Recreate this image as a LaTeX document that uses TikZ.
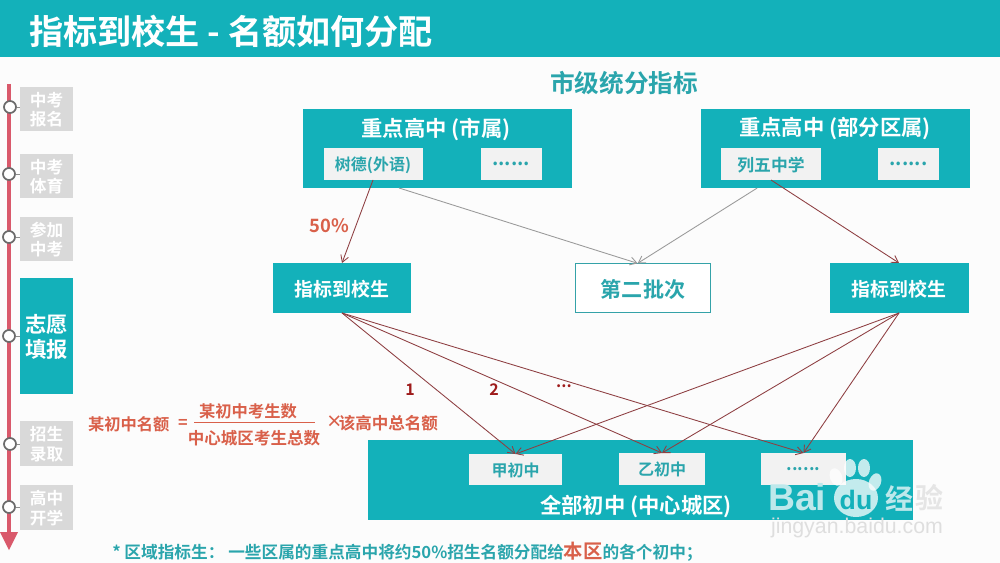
\documentclass[tikz,border=0pt]{standalone}
\usepackage{fontspec}
\setmainfont{Noto Sans CJK SC}[BoldFont={* Bold}]
\newfontfamily\wmfont{Liberation Sans}
\usetikzlibrary{arrows.meta,calc}
\definecolor{teal1}{HTML}{13B1BA}
\definecolor{tealtxt}{HTML}{2AA5AC}
\definecolor{greybox}{HTML}{D9D9D9}
\definecolor{lightbox}{HTML}{F2F2F2}
\definecolor{tlred}{HTML}{D9596B}
\definecolor{orangetxt}{HTML}{D9604A}
\definecolor{arrowred}{HTML}{8E3F42}
\definecolor{arrowgrey}{HTML}{9A9A9A}
\definecolor{numred}{HTML}{9E1B1B}
\definecolor{wm}{HTML}{BDE8EB}
\newcommand{\fs}[1]{\fontsize{#1}{#1}\selectfont\bfseries}
\tikzset{
  x=0.75pt,y=-0.75pt,
  box/.style={inner sep=0pt,outer sep=0pt,align=center,text depth=0pt},
  tealbox/.style={box,fill=teal1,text=white},
  tlbox/.style={box,fill=greybox,text=white,minimum width=39.75pt,font=\fs{12.5},execute at begin node={\baselineskip=14.5pt}},
  smallbox/.style={box,fill=lightbox,text=tealtxt,font=\fs{12}},
  dotsbox/.style={box,fill=lightbox,text=tealtxt,font=\fs{14.5}},
  tldot/.style={circle,draw=black!58,line width=1.3pt,fill=white,minimum size=9pt,inner sep=0pt},
  redarrow/.style={draw=arrowred,line width=0.65pt,-{Straight Barb[length=5pt,width=6pt]}},
  greyarrow/.style={draw=arrowgrey,line width=0.65pt,-{Straight Barb[length=5pt,width=6pt]}},
  lab/.style={inner sep=0pt,outer sep=0pt,text=orangetxt},
}
\begin{document}
\begin{tikzpicture}
\useasboundingbox (0,0) rectangle (1000,563);
\fill[white!99!black] (0,0) rectangle (1000,563);
% header
\node[tealbox,minimum width=750pt,minimum height=42.75pt,anchor=north west] (header) at (0,0) {};
\node[inner sep=0pt,text=white,font=\fs{25.6},anchor=west] (title) at (29,31) {指标到校生 - 名额如何分配};
% timeline
\draw[tlred,line width=3pt] (9,84) coordinate (tltop) -- (9,534) coordinate (tlend);
\fill[tlred] (0,532) -- (18,532) -- (9,550) -- cycle;
\node[tlbox,minimum height=33pt] (t1) at (46.5,109) {中考\\报名};
\node[tlbox,minimum height=33pt] (t2) at (46.5,176) {中考\\体育};
\node[tlbox,minimum height=33pt] (t3) at (46.5,239) {参加\\中考};
\node[box,fill=teal1,text=white,minimum width=39.75pt,minimum height=87pt,font=\fs{16},execute at begin node={\baselineskip=19pt}] (t4) at (46.5,336) {志愿\\填报};
\node[tlbox,minimum height=33.75pt] (t5) at (46.5,443.5) {招生\\录取};
\node[tlbox,minimum height=33.75pt] (t6) at (46.5,507.5) {高中\\开学};
\node[tldot] (d1) at (10,107) {};
\node[tldot] (d2) at (9,174) {};
\node[tldot] (d3) at (9,237) {};
\node[tldot] (d4) at (9,336) {};
\node[tldot] (d5) at (10,444) {};
\node[tldot] (d6) at (9,507) {};
\foreach \a/\b in {d1/t1,d2/t2,d3/t3,d4/t4,d5/t5,d6/t6}{\draw[black!45,line width=0.6pt] (\a) -- (\a -| \b.west);}
% heading
\node[inner sep=0pt,text=tealtxt,font=\fs{18.5}] (head) at (624,83) {市级统分指标};
% top boxes
\node[tealbox,minimum width=201.75pt,minimum height=59.25pt] (cs) at (437.5,148.5) {};
\node[inner sep=0pt,text=white,font=\fs{16}] (cst) at (436,129) {重点高中 (市属)};
\node[smallbox,minimum width=74.25pt,minimum height=24pt] (sd) at (373,164) {树德(外语)};
\node[dotsbox,minimum width=45.75pt,minimum height=24pt] (m1) at (511,164) {......};
\node[tealbox,minimum width=201.75pt,minimum height=59.25pt] (qs) at (835.5,148.5) {};
\node[inner sep=0pt,text=white,font=\fs{16}] (qst) at (835,129) {重点高中 (部分区属)};
\node[smallbox,font=\fs{12.6},minimum width=75pt,minimum height=24pt] (lw) at (771,164) {列五中学};
\node[dotsbox,minimum width=45.75pt,minimum height=24pt] (m2) at (908.5,164) {......};
% middle boxes
\node[tealbox,minimum width=103.5pt,minimum height=37.5pt,font=\fs{14.2}] (zb1) at (342,288) {指标到校生};
\node[box,fill=white,draw=teal1!70!gray,line width=0.7pt,text=tealtxt,minimum width=101pt,minimum height=37pt,font=\fs{15.8}] (dp) at (643,288) {第二批次};
\node[tealbox,minimum width=104.25pt,minimum height=37.5pt,font=\fs{14.2}] (zb2) at (899,288) {指标到校生};
% bottom box
\node[tealbox,minimum width=408.75pt,minimum height=60pt] (all) at (640.5,480) {};
\node[inner sep=0pt,text=white,font=\fs{16}] (allt) at (636,506) {全部初中 (中心城区)};
\node[smallbox,minimum width=69.75pt,minimum height=23.25pt] (jia) at (515.5,469.5) {甲初中};
\node[smallbox,minimum width=64.5pt,minimum height=24pt] (yi) at (662,469) {乙初中};
\node[dotsbox,font=\fs{13},minimum width=63.75pt,minimum height=24pt] (m3) at (803.5,469) {......};
% connectors
\coordinate (g1) at ($(cs.south west)!0.357!(cs.south east)$);
\coordinate (g2) at ($(qs.south west)!0.209!(qs.south east)$);
\coordinate (dpt) at ($(dp.north west)!0.46!(dp.north east)$);
\draw[redarrow] (sd.south) -- (zb1.north);
\draw[greyarrow] (g1) -- (dpt);
\draw[greyarrow] (g2) -- (dpt);
\draw[redarrow] (lw.south) -- (zb2.north);
\foreach \t in {jia,yi,m3}{
  \draw[redarrow] (zb1.south) -- (\t.north);
  \draw[redarrow] (zb2.south) -- (\t.north);
}
% labels
\node[lab,font=\fs{13.8}] (p50) at (329.5,226) {50\%};
\node[inner sep=0pt,text=numred,font=\fs{12}] (n1) at (410,390) {1};
\node[inner sep=0pt,text=numred,font=\fs{12}] (n2) at (494,390) {2};
\node[inner sep=0pt,text=numred,font=\fs{12}] (n3) at (564,386) {...};
% formula
\node[lab,font=\fs{12.2},anchor=west] (f1) at (88,424) {某初中名额};
\node[lab,font=\fs{12.2}] (f2) at (183,424) {=};
\node[lab,font=\fs{12.2}] (f3) at (248,411) {某初中考生数};
\node[lab,font=\fs{12.4}] (f4) at (254,438) {中心城区考生总数};
\draw[orangetxt,line width=0.6pt] (194,422) coordinate (fa) -- (315,422) coordinate (fb);
\node[lab,font=\fs{12.4},anchor=west] (f5a) at (326,422) {×};
\node[lab,font=\fs{12.4},anchor=east] (f5) at (438,423) {该高中总名额};
% footer
\node[inner sep=0pt,text=tealtxt,font=\fs{12.5},anchor=west] (foot) at (112,552) {* 区域指标生： 一些区属的重点高中将约50\%招生名额分配给\textcolor{orangetxt}{\fs{14.5}本区}的各个初中；};
% watermark
\node[inner sep=0pt,text=wm,font={\wmfont\fontsize{28}{28}\selectfont\bfseries},anchor=west] (wb) at (768,497) {Bai};
\fill[white,opacity=.75,rotate around={20:(836,477)}] (836,477) ellipse (6 and 9);
\fill[white,opacity=.75] (850,468) ellipse (6 and 9);
\fill[white,opacity=.75] (864,468) ellipse (6 and 9);
\fill[white,opacity=.75,rotate around={-20:(875,482)}] (875,482) ellipse (6 and 9);
\fill[white,opacity=.75] (856,498) ellipse (22 and 19);
\node[inner sep=0pt,text=teal1,font={\wmfont\fontsize{20}{20}\selectfont\bfseries}] (wd) at (856,500) {du};
\node[inner sep=0pt,text=wm,font=\fs{21}] (wj) at (899,498) {经};
\node[inner sep=0pt,text=black!10,font=\fs{21}] (wy) at (929,498) {验};
\node[inner sep=0pt,text=black!13,font={\wmfont\fontsize{16}{16}\selectfont}] (wu) at (857,528) {jingyan.baidu.com};
\end{tikzpicture}
\end{document}
